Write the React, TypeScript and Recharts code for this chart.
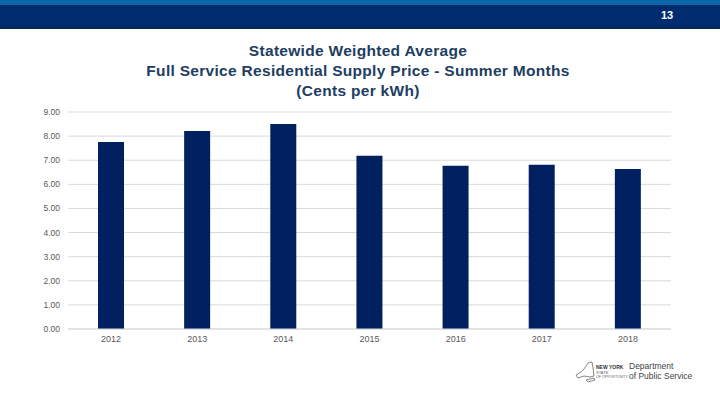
import React from 'react';
import { BarChart, Bar, XAxis, YAxis, CartesianGrid } from 'recharts';

const years = ['2012', '2013', '2014', '2015', '2016', '2017', '2018'];
const prices = [7.76, 8.21, 8.5, 7.19, 6.77, 6.81, 6.64];
const yTicks = [0, 1, 2, 3, 4, 5, 6, 7, 8, 9];
const titleLines = [
  'Statewide Weighted Average',
  'Full Service Residential Supply Price - Summer Months',
  '(Cents per kWh)',
];

const chartData = years.map((year, i) => ({ year, price: prices[i] }));

const NAVY = '#002060';

const Header: React.FC = () => (
  <div style={{ position: 'absolute', left: 0, top: 0, width: 720, height: 29 }}>
    <div style={{ height: 5, background: '#0b68a8' }} />
    <div style={{ height: 22, background: '#002c6f', position: 'relative' }}>
      <span
        style={{
          position: 'absolute',
          left: 661,
          top: 4,
          color: '#fff',
          fontFamily: 'Arial, "Liberation Sans", sans-serif',
          fontWeight: 700,
          fontSize: 11,
        }}
      >
        13
      </span>
    </div>
    <div style={{ height: 2, background: '#0b2748' }} />
  </div>
);

const Logo: React.FC = () => (
  <div style={{ position: 'absolute', left: 574, top: 360, width: 146, height: 26 }}>
    <svg width={56} height={24} style={{ position: 'absolute', left: 0, top: 0 }}>
      <path
        d="M14 3 L18 2 L19 8 L20 16 L16 17 L10 16 L4 18 L2 15 L7 12 L10 9 Z M12 20 L20 18 L21 20 L14 22 Z"
        fill="none"
        stroke="#555"
        strokeWidth={0.7}
      />
      <text x={22} y={9} fontSize={5} fontWeight={700} fill="#333" fontFamily="Arial, sans-serif">
        NEW YORK
      </text>
      <text x={22} y={14} fontSize={4} fill="#666" fontFamily="Arial, sans-serif">
        STATE
      </text>
      <text x={22} y={18} fontSize={3.6} fill="#666" fontFamily="Arial, sans-serif">
        OF OPPORTUNITY.
      </text>
    </svg>
    <div
      style={{
        position: 'absolute',
        left: 55,
        top: 1,
        fontFamily: 'Arial, "Liberation Sans", sans-serif',
        fontSize: 8.5,
        lineHeight: '10px',
        color: '#444',
        whiteSpace: 'nowrap',
      }}
    >
      Department
      <br />
      of Public Service
    </div>
  </div>
);

export default function App() {
  return (
    <div
      style={{
        position: 'absolute',
        left: 0,
        top: 0,
        width: 720,
        height: 405,
        background: '#fff',
        overflow: 'hidden',
        fontFamily: 'Arial, "Liberation Sans", sans-serif',
      }}
    >
      <Header />
      <div
        style={{
          position: 'absolute',
          left: 0,
          top: 41,
          width: 716,
          textAlign: 'center',
          fontSize: 15.5,
          fontWeight: 700,
          letterSpacing: 0.3,
          lineHeight: '20px',
          color: '#213d5f',
        }}
      >
        {titleLines.map((line) => (
          <div key={line}>{line}</div>
        ))}
      </div>
      <div style={{ position: 'absolute', left: 0, top: 0 }}>
        <BarChart
          width={720}
          height={405}
          data={chartData}
          margin={{ top: 112, right: 49, bottom: 0, left: 0 }}
        >
          <CartesianGrid vertical={false} stroke="#d9d9d9" />
          <XAxis
            dataKey="year"
            height={76}
            tickLine={false}
            tickSize={0}
            tickMargin={7}
            axisLine={{ stroke: '#d9d9d9' }}
            tick={{ fill: '#595959', fontSize: 9 }}
          />
          <YAxis
            width={68}
            domain={[0, 9]}
            ticks={yTicks}
            tickFormatter={(v: number) => v.toFixed(2)}
            axisLine={false}
            tickLine={false}
            tickSize={0}
            tickMargin={8}
            tick={{ fill: '#595959', fontSize: 8.5 }}
          />
          <Bar dataKey="price" fill={NAVY} barSize={26} isAnimationActive={false} />
        </BarChart>
      </div>
      <Logo />
    </div>
  );
}
